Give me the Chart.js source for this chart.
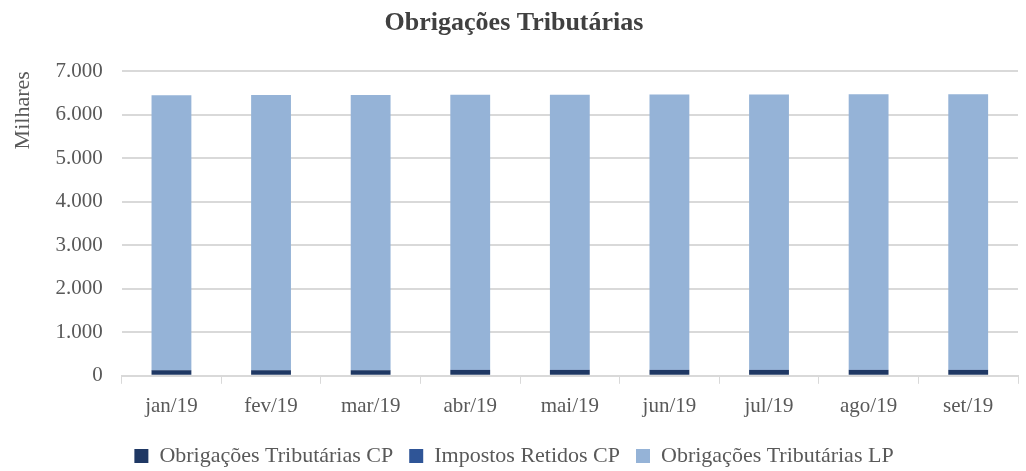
<!DOCTYPE html>
<html>
<head>
<meta charset="utf-8">
<script src="https://cdn.jsdelivr.net/npm/chart.js@4"></script>
<style>
  html, body { margin: 0; padding: 0; background: #fff; }
  #wrap { width: 1026px; height: 471px; }
</style>
</head>
<body>
<div id="wrap"><canvas id="myChart"></canvas></div>
<script>
const months = ['jan/19', 'fev/19', 'mar/19', 'abr/19', 'mai/19', 'jun/19', 'jul/19', 'ago/19', 'set/19'];
const obrigacoesCP = [128, 130, 130, 131, 131, 132, 133, 133, 134];
const impostosRetidosCP = [6, 6, 6, 6, 6, 6, 6, 6, 6];
const obrigacoesLP = [6312, 6315, 6318, 6320, 6322, 6325, 6328, 6330, 6332];

const serif = "'Liberation Serif', 'DejaVu Serif', serif";
const ctx = document.getElementById('myChart');

new Chart(ctx, {
  type: 'bar',
  data: {
    labels: months,
    datasets: [
      {
        label: 'Obrigações Tributárias CP',
        data: obrigacoesCP,
        backgroundColor: '#1f3864',
        borderWidth: 0
      },
      {
        label: 'Impostos Retidos CP',
        data: impostosRetidosCP,
        backgroundColor: '#2f5597',
        borderWidth: 0
      },
      {
        label: 'Obrigações Tributárias LP',
        data: obrigacoesLP,
        backgroundColor: '#95b3d7',
        borderWidth: 0
      }
    ]
  },
  options: {
    responsive: true,
    maintainAspectRatio: false,
    animation: false,
    layout: { padding: { left: 10, right: 8, top: 2, bottom: -6 } },
    datasets: { bar: { categoryPercentage: 1, barPercentage: 0.4 } },
    plugins: {
      title: {
        display: true,
        text: 'Obrigações Tributárias',
        color: '#404040',
        font: { family: serif, size: 26, weight: 'bold' },
        padding: { top: 6, bottom: 32 }
      },
      legend: {
        position: 'bottom',
        labels: {
          color: '#595959',
          font: { family: serif, size: 22 },
          boxWidth: 14,
          boxHeight: 14,
          padding: 16
        }
      },
      tooltip: { enabled: false }
    },
    scales: {
      x: {
        stacked: true,
        grid: { display: true, drawOnChartArea: false, offset: true, tickLength: 8, color: '#d9d9d9' },
        border: { display: true, color: '#d9d9d9', width: 2 },
        ticks: { color: '#595959', font: { family: serif, size: 21 }, padding: 10 }
      },
      y: {
        stacked: true,
        min: 0,
        max: 7000,
        grid: { color: '#d9d9d9', lineWidth: 2, drawTicks: false },
        border: { display: false },
        ticks: {
          stepSize: 1000,
          color: '#595959',
          font: { family: serif, size: 21 },
          padding: 19,
          callback: v => v.toLocaleString('de-DE')
        },
        title: {
          display: true,
          text: 'Milhares',
          align: 'end',
          color: '#595959',
          font: { family: serif, size: 22 },
          padding: { top: 0, bottom: 0 }
        }
      }
    }
  }
});
</script>
</body>
</html>
